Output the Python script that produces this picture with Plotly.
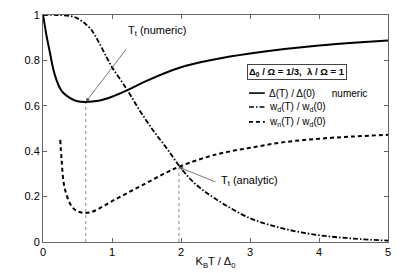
import plotly.graph_objects as go

# Delta(T)/Delta(0) numeric
x_delta = [0, 0.02, 0.05, 0.1, 0.15, 0.2, 0.25, 0.3, 0.4, 0.5, 0.62, 0.8, 1.0, 1.23, 1.5, 2.0, 2.5, 3.0, 3.5, 4.0, 4.5, 5.0]
y_delta = [1.0, 0.965, 0.91, 0.835, 0.76, 0.71, 0.675, 0.655, 0.633, 0.62, 0.617, 0.622, 0.64, 0.67, 0.71, 0.77, 0.805, 0.83, 0.85, 0.866, 0.878, 0.888]

# w_d(T)/w_d(0)
x_wd = [0, 0.2, 0.4, 0.5, 0.6, 0.7, 0.8, 0.92, 1.0, 1.2, 1.4, 1.6, 1.8, 2.0, 2.2, 2.5, 3.0, 3.5, 4.0, 4.5, 5.0]
y_wd = [1.0, 1.0, 0.995, 0.985, 0.965, 0.935, 0.885, 0.815, 0.77, 0.68, 0.58, 0.49, 0.41, 0.325, 0.258, 0.19, 0.105, 0.058, 0.03, 0.015, 0.006]

# w_n(T)/w_d(0)
x_wn = [0.25, 0.27, 0.3, 0.35, 0.42, 0.5, 0.6, 0.7, 0.8, 1.0, 1.25, 1.5, 1.75, 2.0, 2.5, 3.0, 3.5, 4.0, 4.5, 5.0]
y_wn = [0.45, 0.36, 0.26, 0.2, 0.155, 0.135, 0.128, 0.132, 0.145, 0.18, 0.22, 0.26, 0.3, 0.335, 0.385, 0.415, 0.44, 0.455, 0.465, 0.472]

# transition temperatures
t_numeric, v_numeric = 0.62, 0.617
t_analytic, v_analytic = 1.97, 0.33

x_ticks = [0, 1, 2, 3, 4, 5]
y_ticks = [0, 0.2, 0.4, 0.6, 0.8, 1]
y_tick_text = ["0", "0.2", "0.4", "0.6", "0.8", "1"]

series_names = ["Δ(T) / Δ(0)      numeric",
                "w<sub>d</sub>(T) / w<sub>d</sub>(0)",
                "w<sub>n</sub>(T) / w<sub>d</sub>(0)"]
legend_title = "<b>Δ<sub>0</sub> / Ω = 1/3,  λ / Ω = 1</b>"

FONT = "Liberation Sans, Arial, Helvetica, sans-serif"
DASHES = ["solid", "5px,2px,1.5px,2px", "4px,3px"]
WIDTHS = [2, 1.8, 2]

fig = go.Figure()

fig.add_trace(go.Scatter(x=[t_numeric, t_numeric], y=[0, v_numeric], mode="lines",
                         line=dict(color="#888", width=1, dash="dot"), showlegend=False, hoverinfo="skip"))
fig.add_trace(go.Scatter(x=[t_analytic, t_analytic], y=[0, v_analytic], mode="lines",
                         line=dict(color="#888", width=1, dash="dot"), showlegend=False, hoverinfo="skip"))

for xs, ys, nm, dsh, w in zip([x_delta, x_wd, x_wn], [y_delta, y_wd, y_wn], series_names, DASHES, WIDTHS):
    fig.add_trace(go.Scatter(x=xs, y=ys, mode="lines", line_shape="spline",
                             line=dict(color="black", width=w, dash=dsh if dsh != "solid" else None),
                             name=nm, showlegend=False))

# arrows
fig.add_annotation(x=t_numeric, y=v_numeric, ax=1.22, ay=0.855, axref="x", ayref="y",
                   xref="x", yref="y", text="", showarrow=True, arrowhead=2,
                   arrowsize=1, arrowwidth=0.8, arrowcolor="#555")
fig.add_annotation(x=1.2, y=0.93, xref="x", yref="y", text="T<sub>t</sub> (numeric)",
                   showarrow=False, xanchor="left", yanchor="middle",
                   font=dict(family=FONT, size=11, color="black"))
fig.add_annotation(x=t_analytic, y=v_analytic, ax=2.52, ay=0.262, axref="x", ayref="y",
                   xref="x", yref="y", text="", showarrow=True, arrowhead=2,
                   arrowsize=1, arrowwidth=0.8, arrowcolor="#555")
fig.add_annotation(x=2.55, y=0.27, xref="x", yref="y", text="T<sub>t</sub> (analytic)",
                   showarrow=False, xanchor="left", yanchor="middle",
                   font=dict(family=FONT, size=11, color="black"))

# legend title box
fig.add_annotation(x=0.592, y=0.748, xref="paper", yref="paper",
                   text=legend_title,
                   showarrow=False, xanchor="left", yanchor="middle",
                   bordercolor="#444", borderwidth=1, borderpad=1,
                   font=dict(family=FONT, size=9.5, color="black"))

# manual legend
leg_y = [0.656, 0.595, 0.529]
for yy, nm, dsh, w in zip(leg_y, series_names, DASHES, WIDTHS):
    fig.add_shape(type="line", xref="paper", yref="paper", x0=0.597, x1=0.643, y0=yy, y1=yy,
                  line=dict(color="black", width=w * 0.8, dash=dsh))
    fig.add_annotation(x=0.648, y=yy, xref="paper", yref="paper", text=nm, showarrow=False,
                       xanchor="left", yanchor="middle",
                       font=dict(family=FONT, size=10, color="black"))

# page body has an 8px margin: size the figure so the plot lands where the reference has it
fig.update_layout(
    width=407, height=265,
    margin=dict(l=35, r=27, t=7, b=31, autoexpand=False),
    paper_bgcolor="white", plot_bgcolor="white",
    font=dict(family=FONT, size=11, color="black"),
    showlegend=False,
    xaxis=dict(range=[0, 5], tickvals=x_ticks, ticks="inside", ticklen=4, automargin=False,
               tickcolor="#666", showline=True, linecolor="#666", linewidth=1,
               mirror="ticks", showgrid=False, zeroline=False,
               title=dict(text="K<sub>B</sub>T / Δ<sub>0</sub>", standoff=0,
                          font=dict(size=11))),
    yaxis=dict(range=[0, 1], tickvals=y_ticks, ticktext=y_tick_text, ticks="inside", automargin=False,
               ticklen=4, tickcolor="#666", showline=True, linecolor="#666",
               linewidth=1, mirror="ticks", showgrid=False, zeroline=False),
)

fig.write_html("out.html")
